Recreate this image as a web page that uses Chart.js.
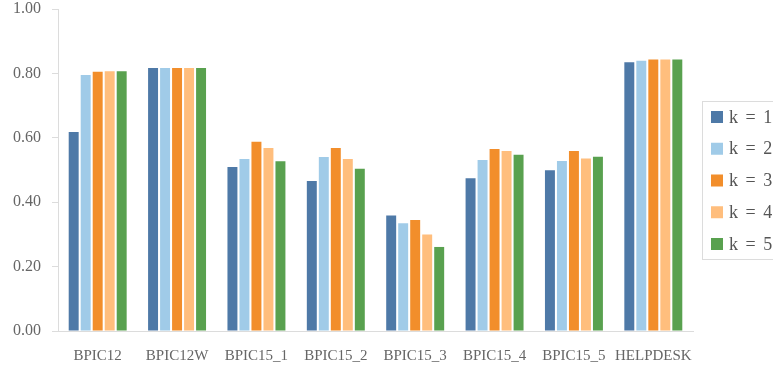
<!DOCTYPE html>
<html>
<head>
<meta charset="utf-8">
<script src="https://cdn.jsdelivr.net/npm/chart.js@4/dist/chart.umd.min.js"></script>
<style>
  html, body { margin: 0; padding: 0; background: #fff; overflow: hidden; }
  #wrap { width: 773px; height: 366px; position: relative; }
</style>
</head>
<body>
<div id="wrap"><canvas id="c" width="773" height="366"></canvas></div>
<script>
const categories = ["BPIC12", "BPIC12W", "BPIC15_1", "BPIC15_2", "BPIC15_3", "BPIC15_4", "BPIC15_5", "HELPDESK"];
const seriesLabels = ["k = 1", "k = 2", "k = 3", "k = 4", "k = 5"];
const k1 = [0.618, 0.817, 0.509, 0.466, 0.359, 0.474, 0.499, 0.835];
const k2 = [0.795, 0.817, 0.534, 0.540, 0.335, 0.531, 0.528, 0.839];
const k3 = [0.805, 0.817, 0.588, 0.568, 0.345, 0.565, 0.559, 0.843];
const k4 = [0.807, 0.817, 0.568, 0.534, 0.300, 0.559, 0.536, 0.843];
const k5 = [0.807, 0.817, 0.527, 0.504, 0.261, 0.547, 0.541, 0.843];
const yTicks = [0, 0.2, 0.4, 0.6, 0.8, 1.0];

const colors = ["#4e79a7", "#a0cbe8", "#f28e2b", "#ffbe7d", "#59a14f"];
const serif = "'Liberation Serif', 'DejaVu Serif', serif";

// Boxed legend on the right, partly running off the canvas edge
const boxedLegend = {
  id: "boxedLegend",
  afterDraw(chart) {
    const ctx = chart.ctx;
    const ds = chart.data.datasets;
    const x0 = chart.chartArea.right + 9, y0 = 101, w = 120, h = 158;
    ctx.save();
    ctx.strokeStyle = "#dcdcdc";
    ctx.lineWidth = 1;
    ctx.fillStyle = "#fff";
    ctx.fillRect(x0 + 0.5, y0 + 0.5, w, h);
    ctx.strokeRect(x0 + 0.5, y0 + 0.5, w, h);
    ctx.font = "18px " + serif;
    ctx.letterSpacing = "1.5px";
    ctx.textBaseline = "middle";
    ds.forEach((d, i) => {
      const cy = y0 + 16 + i * 31.75;
      ctx.fillStyle = d.backgroundColor;
      ctx.fillRect(x0 + 9, cy - 6, 12, 12);
      ctx.fillStyle = "#555";
      ctx.fillText(d.label, x0 + 27, cy + 1);
    });
    ctx.restore();
  }
};

new Chart(document.getElementById("c"), {
  type: "bar",
  data: {
    labels: categories,
    datasets: [k1, k2, k3, k4, k5].map((vals, i) => ({
      label: seriesLabels[i],
      data: vals,
      backgroundColor: colors[i],
      borderWidth: 0,
      categoryPercentage: 0.756,
      barPercentage: 0.83
    }))
  },
  options: {
    responsive: false,
    animation: false,
    devicePixelRatio: 1,
    layout: { padding: { top: 9, right: 80, left: 12, bottom: 0 } },
    plugins: { legend: { display: false }, tooltip: { enabled: false } },
    scales: {
      x: {
        grid: { display: false },
        border: { display: true, color: "#dcdcdc", width: 1 },
        ticks: { color: "#666", font: { family: serif, size: 15 }, padding: 8, maxRotation: 0, autoSkip: false },
        afterFit(scale) { scale.height = 35; scale.paddingLeft = 0; scale.paddingRight = 0; }
      },
      y: {
        min: 0,
        max: 1,
        afterBuildTicks(scale) { scale.ticks = yTicks.map(v => ({ value: v })); },
        grid: { drawOnChartArea: false, drawTicks: true, tickLength: 6, color: "#dcdcdc" },
        border: { display: true, color: "#dcdcdc", width: 1 },
        ticks: { color: "#666", font: { family: serif, size: 16 }, padding: 11, callback: v => v.toFixed(2) },
        afterFit(scale) { scale.width = 46; scale.paddingTop = 0; scale.paddingBottom = 0; }
      }
    }
  },
  plugins: [boxedLegend]
});
</script>
</body>
</html>
